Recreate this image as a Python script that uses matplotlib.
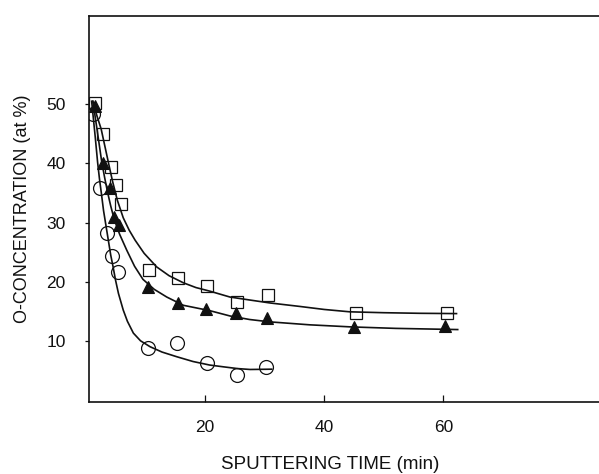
import matplotlib
matplotlib.use("Agg")
import matplotlib.pyplot as plt

sq_x = [1.5, 2.9, 4.2, 5.1, 5.9, 10.6, 15.5, 20.3, 25.4, 30.6, 45.3, 60.6]
sq_y = [50.2, 45.0, 39.4, 36.4, 33.2, 21.9, 20.7, 19.2, 16.5, 17.7, 14.7, 14.7]

tri_x = [1.5, 2.9, 4.1, 4.7, 5.6, 10.4, 15.5, 20.2, 25.2, 30.4, 45.0, 60.3]
tri_y = [49.7, 40.1, 35.9, 30.9, 29.5, 19.1, 16.4, 15.4, 14.7, 13.8, 12.3, 12.5]

circ_x = [1.2, 2.4, 3.6, 4.4, 5.4, 10.4, 15.3, 20.3, 25.4, 30.2]
circ_y = [48.4, 35.9, 28.3, 24.3, 21.6, 8.8, 9.6, 6.3, 4.3, 5.6]

# fitted curves
sq_fit_x = [1.2, 1.9, 2.6, 3.2, 3.8, 4.5, 5.3, 6.3, 7.3, 8.3, 9.8, 11.9, 14.0,
            16.4, 18.5, 20.8, 24.2, 27.5, 30.9, 36.0, 40.0, 44.3, 50.0, 56.0, 62.2]
sq_fit_y = [50.5, 48.0, 45.8, 43.0, 40.2, 37.0, 33.8, 30.8, 28.7, 27.0, 24.8, 22.5, 21.0,
            19.8, 19.0, 18.4, 17.4, 16.9, 16.4, 15.8, 15.3, 14.9, 14.75, 14.65, 14.6]

tri_fit_x = [1.2, 1.5, 1.9, 2.3, 2.7, 3.2, 3.7, 4.2, 4.8, 5.7, 6.9, 8.2, 9.6, 11.5,
             13.6, 16.4, 20.8, 24.2, 27.5, 30.9, 37.6, 44.5, 52.0, 62.4]
tri_fit_y = [50.5, 48.5, 45.8, 43.0, 40.2, 37.5, 35.0, 32.8, 30.5, 28.0, 25.3, 22.6, 20.4, 18.7,
             17.4, 16.0, 15.1, 14.2, 13.6, 13.2, 12.7, 12.35, 12.1, 11.9]

circ_fit_x = [1.0, 1.3, 1.6, 2.0, 2.3, 2.6, 3.0, 3.4, 3.8, 4.2, 4.6, 5.0, 5.5, 6.3, 7.0,
              8.0, 9.2, 10.8, 12.8, 15.3, 18.0, 20.8, 23.1, 25.5, 27.6, 31.2]
circ_fit_y = [50.5, 47.5, 44.5, 40.2, 37.5, 35.2, 32.0, 29.5, 27.0, 24.5, 22.5, 20.3, 18.0, 15.2, 13.3,
              11.3, 10.0, 9.0, 8.1, 7.3, 6.5, 5.9, 5.6, 5.3, 5.15, 5.2]

x_ticks = [20, 40, 60]
y_ticks = [10, 20, 30, 40, 50]

plt.rcParams['font.family'] = ['Liberation Sans', 'DejaVu Sans']

fig = plt.figure(figsize=(5.99, 4.74), dpi=100)
ax = fig.add_axes([0.149, 0.1525, 0.851, 0.8135])

ink = "#111111"
ax.plot(sq_fit_x, sq_fit_y, color=ink, lw=1.2)
ax.plot(tri_fit_x, tri_fit_y, color=ink, lw=1.2)
ax.plot(circ_fit_x, circ_fit_y, color=ink, lw=1.2)

ax.plot(sq_x, sq_y, ls="none", marker="s", ms=9, mfc="none", mec=ink, mew=0.9)
ax.plot(tri_x, tri_y, ls="none", marker="^", ms=9, mfc=ink, mec=ink, mew=0.8)
ax.plot(circ_x, circ_y, ls="none", marker="o", ms=10, mfc="none", mec=ink, mew=0.9)

ax.set_xlim(0.6, 86.1)
ax.set_ylim(-0.3, 64.9)
ax.set_xticks(x_ticks)
ax.set_yticks(y_ticks)

ax.spines["right"].set_visible(False)
for s in ["left", "top", "bottom"]:
    ax.spines[s].set_linewidth(1.2)
    ax.spines[s].set_color(ink)

ax.tick_params(axis="x", direction="in", length=5, width=0.9, pad=13, labelsize=12.5, colors=ink)
ax.tick_params(axis="y", direction="out", length=3, width=0.9, pad=14, labelsize=12.5, colors=ink)

ax.set_xlabel("SPUTTERING TIME (min)", fontsize=13.5, color=ink)
ax.set_ylabel("O-CONCENTRATION (at %)", fontsize=13, color=ink)
ax.xaxis.set_label_coords(0.472, -0.14)
ax.yaxis.set_label_coords(-0.114, 0.5)

fig.savefig("out.png", dpi=100)
